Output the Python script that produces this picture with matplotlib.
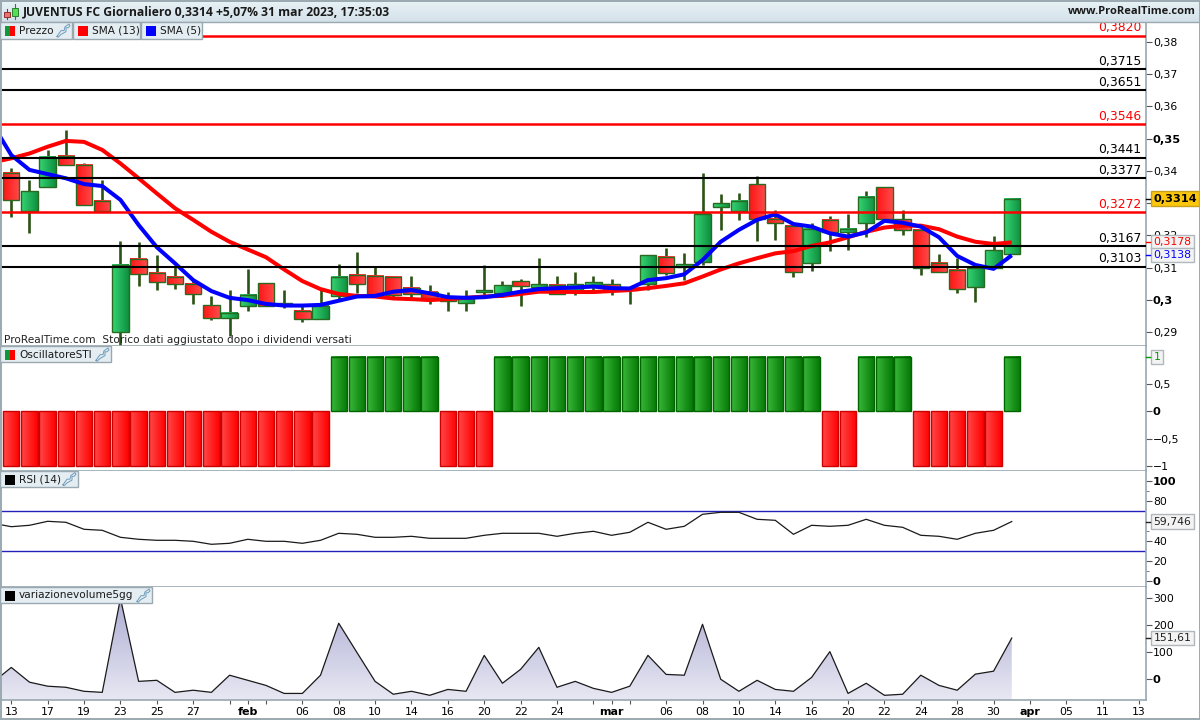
import matplotlib
matplotlib.use('Agg')
import matplotlib.pyplot as plt
import numpy as np
from matplotlib.colors import LinearSegmentedColormap
from matplotlib.patches import Rectangle

# candele giornaliere (13 gen - 31 mar 2023)
highs = [.3408, .3372, .3465, .3527, .3423, .3372, .3182, .3178, .3138, .3101, .3061, .3012, .3030, .3096,
         .3053, .3030, .2987, .3030, .3111, .3147, .3101, .3072, .3074, .3046, .3023, .3030, .3108, .3058,
         .3064, .3129, .3074, .3085, .3073, .3064, .3036, .3139, .3160, .3144, .3393, .3328, .3330, .3384,
         .3279, .3228, .3237, .3260, .3266, .3338, .3349, .3279, .3217, .3141, .3129, .3103, .3198, .3314]
lows = [.3258, .3208, .3349, .3417, .3293, .3276, .2860, .3044, .3031, .3034, .2988, .2937, .2888, .2966,
        .2982, .2973, .2932, .2939, .3002, .3022, .3010, .3010, .3004, .2987, .2966, .2966, .3004, .3010,
        .2981, .3025, .3017, .3016, .3025, .3015, .2987, .3030, .3077, .3061, .3108, .3217, .3248, .3182,
        .3186, .3071, .3090, .3152, .3154, .3196, .3250, .3201, .3077, .3085, .3022, .2994, .3098, .3141]
body_top = [.3394, .3336, .3444, .3447, .3419, .3308, .3109, .3126, .3084, .3072, .3050, .2983, .2960, .3016,
            .3053, .2989, .2966, .2980, .3072, .3078, .3075, .3072, .3036, .3025, .3004, .3004, .3029, .3045,
            .3057, .3048, .3047, .3048, .3054, .3048, .3036, .3138, .3132, .3110, .3267, .3299, .3308, .3358,
            .3250, .3228, .3221, .3247, .3219, .3318, .3349, .3250, .3216, .3115, .3091, .3098, .3153, .3314]
body_bottom = [.3309, .3276, .3349, .3417, .3293, .3276, .2899, .3079, .3056, .3050, .3017, .2944, .2942, .2980,
               .2982, .2986, .2939, .2939, .3012, .3050, .3015, .3015, .3017, .3004, .2996, .2989, .3023, .3022,
               .3044, .3041, .3017, .3025, .3046, .3030, .3030, .3048, .3082, .3103, .3118, .3287, .3276, .3250,
               .3237, .3085, .3113, .3209, .3209, .3237, .3250, .3217, .3098, .3085, .3032, .3039, .3098, .3141]
is_green = [0, 1, 1, 0, 0, 0, 1, 0, 0, 0, 0, 0, 1, 1, 0, 0, 0, 1, 1, 0, 0, 0, 0, 0, 0, 1, 1, 1,
            0, 1, 0, 1, 1, 0, 0, 1, 0, 1, 1, 1, 1, 0, 0, 0, 1, 0, 1, 1, 0, 0, 0, 0, 0, 1, 1, 1]

# il primo valore e' il giorno prima, fuori dal grafico a sinistra
sma13 = [.3427, .3439, .3454, .3475, .3493, .3490, .3465, .3423, .3377, .3330, .3284, .3248, .3211, .3180, .3156,
         .3132, .3094, .3058, .3033, .3018, .3012, .3010, .3004, .3002, .2999, .3002, .3006, .3010, .3012,
         .3018, .3025, .3025, .3024, .3024, .3027, .3030, .3036, .3043, .3051, .3072, .3094, .3113, .3129,
         .3144, .3151, .3167, .3178, .3194, .3211, .3224, .3230, .3230, .3219, .3196, .3180, .3173, .3178]
sma5 = [.3542, .3449, .3403, .3390, .3377, .3359, .3353, .3310, .3232, .3163, .3113, .3061, .3027, .3006, .2999,
        .2987, .2982, .2982, .2984, .2997, .3010, .3012, .3025, .3030, .3020, .3008, .3006, .3008, .3015,
        .3025, .3033, .3036, .3038, .3041, .3036, .3035, .3061, .3067, .3079, .3123, .3180, .3217, .3248,
        .3265, .3235, .3227, .3206, .3196, .3209, .3245, .3239, .3227, .3194, .3136, .3108, .3096, .3138]

levels_red = [.3820, .3546, .3272]
levels_black = [.3715, .3651, .3441, .3377, .3167, .3103]

oscillatore = [-1] * 18 + [1] * 6 + [-1] * 3 + [1] * 18 + [-1] * 2 + [1] * 3 + [-1] * 5 + [1]

rsi = [58, 54.6, 56, 60, 59, 52, 51, 44, 42, 41, 41, 40, 37, 38, 42, 40, 40, 38, 41, 48, 47, 44, 44,
       45, 43, 43, 43, 46, 48, 48, 48, 45, 48, 50, 46, 49, 59, 52, 55, 67, 69, 69, 62, 61, 47,
       56, 55, 56, 62, 56, 54, 46, 45, 42, 48, 51, 59.746]

volume = [-13, 42, -13, -28, -32, -47, -51, 300, -10, -6, -51, -43, -51, 13, -6, -25, -55, -55, 13, 207, 98, -10, -58,
          -47, -62, -40, -47, 87, -17, 35, 117, -32, -10, -36, -51, -28, 87, 16, 13, 203, -2, -47, -6, -40, -47,
          5, 101, -55, -17, -62, -58, 13, -25, -43, 17, 28, 151.61]

price_ticks = [.29, .30, .31, .32, .33, .34, .35, .36, .37, .38]
price_tick_labels = ['0,29', '0,3', '0,31', '0,32', '', '0,34', '0,35', '0,36', '0,37', '0,38']
osc_ticks = [-1, -.5, 0, .5]
osc_tick_labels = ['\u22121', '\u22120,5', '0', '0,5']
rsi_ticks = [0, 20, 40, 80, 100]
rsi_minor = [10, 50, 90]
vol_ticks = [0, 100, 200, 300]

date_ticks = [0, 2, 4, 6, 8, 10, 13, 16, 18, 20, 22, 24, 26, 28, 30, 33, 36, 38, 40, 42, 44, 46, 48, 50, 52, 54, 56, 58, 60, 62]
date_labels = ['13', '17', '19', '23', '25', '27', 'feb', '06', '08', '10', '14', '16', '20', '22', '24', 'mar',
               '06', '08', '10', '14', '16', '20', '22', '24', '28', '30', 'apr', '05', '11', '13']
blank_ticks = [12, 14, 32, 34]

GRIGIO = '#9aa8b0'
W, H = 1200, 720
X0, DX = 11.3, 18.19   # pixel della prima candela e passo

plt.rcParams['font.family'] = ['DejaVu Sans']

fig = plt.figure(figsize=(12, 7.2), dpi=100)
ramp = np.linspace(0, 1, 24).reshape(1, -1)


def pane(top, bottom, ymin_val, ymax_val):
    ax = fig.add_axes([1 / W, 1 - bottom / H, 1145 / W, (bottom - top) / H])
    ax.set_xlim((1 - X0) / DX, (1146 - X0) / DX)
    ax.set_ylim(ymin_val, ymax_val)
    ax.set_autoscale_on(False)
    ax.yaxis.tick_right()
    ax.set_xticks([])
    for s in ['left', 'top']:
        ax.spines[s].set_visible(False)
    for s in ['right', 'bottom']:
        ax.spines[s].set_color(GRIGIO)
        ax.spines[s].set_linewidth(1.2)
    ax.tick_params(axis='y', length=4, width=0.8, color='#555555', labelsize=7.8, pad=1)
    return ax


def gradient_box(ax, x, y0, y1, w, c_left, c_right, edge, z):
    cmap = LinearSegmentedColormap.from_list('g', [c_left, c_right])
    ax.imshow(ramp, cmap=cmap, extent=[x - w / 2, x + w / 2, min(y0, y1), max(y0, y1)],
              aspect='auto', interpolation='bilinear', zorder=z)
    ax.add_patch(Rectangle((x - w / 2, min(y0, y1)), w, abs(y1 - y0), fill=False, ec=edge, lw=1.0, zorder=z + 0.1))


def bold_tick(ax, values):
    for tick_val, label in zip(ax.get_yticks(), ax.get_yticklabels()):
        if tick_val in values:
            label.set_fontweight('bold')
            label.set_fontsize(8.2)


def tag(ax, y, text, color, bg, edge, weight='normal', size=7.8):
    ax.text(1 + 7.5 / 1145, y, text, transform=ax.get_yaxis_transform(), color=color, fontsize=size,
            fontweight=weight, va='center', ha='left', zorder=20, clip_on=False,
            bbox=dict(boxstyle='square,pad=0.2', fc=bg, ec=edge, lw=1))
    ax.plot([1, 1 + 4 / 1145], [y, y], transform=ax.get_yaxis_transform(), color=color, lw=1,
            zorder=20, clip_on=False)


# --- prezzo ---
ax_price = pane(22, 345.5, .2858, .38621)
days = np.arange(len(highs))
for i in days:
    ax_price.plot([i, i], [lows[i], highs[i]], color='#2b5315', lw=1.9, solid_capstyle='butt', zorder=2)
    if is_green[i]:
        gradient_box(ax_price, i, body_bottom[i], body_top[i], 0.9, '#35d474', '#0f9040', '#2a6a20', 3)
    else:
        gradient_box(ax_price, i, body_bottom[i], body_top[i], 0.9, '#ff1515', '#ff4a4a', '#2a6a20', 3)

days_line = np.arange(-1, len(highs))
ax_price.plot(days_line, sma13, color='#ff0000', lw=2.9, zorder=5, solid_capstyle='butt')
ax_price.plot(days_line, sma5, color='#0000ff', lw=2.9, zorder=6, solid_capstyle='butt')

for lev in levels_red:
    ax_price.axhline(lev, color='#ff0000', lw=1.8, zorder=7)
    ax_price.text(1141 / 1146, lev + .0004, f'{lev:.4f}'.replace('.', ','), color='#ff0000', fontsize=8.9,
                  transform=ax_price.get_yaxis_transform(), ha='right', va='bottom', zorder=8)
for lev in levels_black:
    ax_price.axhline(lev, color='black', lw=1.5, zorder=7)
    ax_price.text(1141 / 1146, lev + .0004, f'{lev:.4f}'.replace('.', ','), color='black', fontsize=8.9,
                  transform=ax_price.get_yaxis_transform(), ha='right', va='bottom', zorder=8)

ax_price.set_yticks(price_ticks)
ax_price.set_yticklabels(price_tick_labels)
bold_tick(ax_price, [.30, .35])
tag(ax_price, .3314, '0,3314', 'black', '#fbc60c', '#c8a020', weight='bold', size=8.1)
tag(ax_price, sma13[-1] + .0001, '0,3178', '#ff0000', '#f3f3f3', '#b0b8bd')
tag(ax_price, sma5[-1], '0,3138', '#0000ff', '#f3f3f3', '#b0b8bd')
ax_price.text(3 / 1146, .2874, 'ProRealTime.com  Storico dati aggiustato dopo i dividendi versati', fontsize=7.55,
              color='#222222', transform=ax_price.get_yaxis_transform(), va='center', ha='left', zorder=9)

# --- oscillatore ---
ax_osc = pane(345.5, 470.5, -1.09, 1.218)
for i, val in enumerate(oscillatore):
    if val > 0:
        gradient_box(ax_osc, i, 0, val, 0.9, '#38b838', '#067806', '#006400', 3)
    else:
        gradient_box(ax_osc, i, 0, val, 0.9, '#ff4848', '#ff0000', '#cc0000', 3)
ax_osc.set_yticks(osc_ticks)
ax_osc.set_yticklabels(osc_tick_labels)
bold_tick(ax_osc, [0])
tag(ax_osc, 1, '1', '#009900', '#f3f3f3', '#b0b8bd')

# --- RSI ---
ax_rsi = pane(470.5, 586.5, -5.2, 110.8)
ax_rsi.plot(days_line, rsi, color='#1a1a1a', lw=0.9, zorder=3)
ax_rsi.axhline(70, color='#2222bb', lw=1.0, zorder=2)
ax_rsi.axhline(30, color='#2222bb', lw=1.0, zorder=2)
ax_rsi.set_yticks(rsi_ticks)
ax_rsi.set_yticklabels([str(v) for v in rsi_ticks])
ax_rsi.set_yticks(rsi_minor, minor=True)
ax_rsi.tick_params(axis='y', which='minor', length=2.5, width=0.7, color='#777777')
bold_tick(ax_rsi, [0, 100])
tag(ax_rsi, rsi[-1], '59,746', '#222222', '#f3f3f3', '#b0b8bd')

# --- variazione volume ---
ax_vol = pane(586.5, 700, -79.5, 344)
vol_fill = ax_vol.fill_between(days_line, volume, -79.5, color='none', zorder=2)
grad = LinearSegmentedColormap.from_list('v', ['#e8e8f3', '#a6a6d0'])
img = ax_vol.imshow(np.linspace(0, 1, 200).reshape(-1, 1), cmap=grad, origin='lower',
                    extent=[-1, 55, -79.5, 344], aspect='auto', zorder=2, interpolation='bilinear')
img.set_clip_path(vol_fill.get_paths()[0], transform=ax_vol.transData)
ax_vol.plot(days_line, volume, color='#1a1a1a', lw=0.9, zorder=3)
ax_vol.set_yticks(vol_ticks)
ax_vol.set_yticklabels([str(v) for v in vol_ticks])
bold_tick(ax_vol, [0])
tag(ax_vol, volume[-1], '151,61', '#222222', '#f3f3f3', '#b0b8bd')

ax_vol.set_xticks(date_ticks + blank_ticks)
ax_vol.set_xticklabels(date_labels + [''] * len(blank_ticks))
ax_vol.tick_params(axis='x', length=3, width=0.8, color='#555555', labelsize=7.8, pad=2)
for label in ax_vol.get_xticklabels():
    if label.get_text() in ('feb', 'mar', 'apr'):
        label.set_fontweight('bold')
        label.set_fontsize(8)

# --- cornice, intestazione e legende in pixel ---
top = fig.add_axes([0, 0, 1, 1], zorder=30)
top.set_xlim(0, W)
top.set_ylim(H, 0)
top.axis('off')

top.imshow(np.linspace(0, 1, 40).reshape(-1, 1), cmap=LinearSegmentedColormap.from_list('h', ['#e9f3f7', '#d3e1e9']),
           extent=[0, W, 22, 0], aspect='auto', zorder=1)
top.set_xlim(0, W)
top.set_ylim(H, 0)
top.add_patch(Rectangle((0.5, 0.5), W - 1, H - 1.5, fill=False, ec=GRIGIO, lw=1.4, zorder=5))
top.plot([0, W], [22, 22], color=GRIGIO, lw=1, zorder=5)

# icona candele
top.plot([6.5, 6.5], [9, 19], color='#8a3030', lw=0.8, zorder=3)
top.add_patch(Rectangle((3.5, 12), 6, 5, fc='#f07070', ec='#8a3030', lw=0.7, zorder=4))
top.plot([14.5, 14.5], [4, 19], color='#2b8030', lw=0.8, zorder=3)
top.add_patch(Rectangle((11.5, 8), 6, 8, fc='#55dd55', ec='#2b8030', lw=0.7, zorder=4))

top.text(23, 12, 'JUVENTUS FC Giornaliero 0,3314 +5,07% 31 mar 2023, 17:35:03', fontsize=8.7, fontweight='bold',
         family='Open Sans', color='#1a1a1a', va='center', ha='left', zorder=6)
top.text(1196, 12, 'www.ProRealTime.com', fontsize=8, fontweight='bold', family='Open Sans', color='#1a1a1a',
         va='center', ha='right', zorder=6)


def wrench(x, y):
    xs = np.array([0, 4, 7, 8, 12, 13, 11, 9, 9, 4, 1, 0])
    ys = np.array([13, 7, 7, 3, 0, 2, 4, 4, 8, 11, 14, 13])
    top.plot(x + xs, y + ys * 0.95, color='#6f9cba', lw=0.7, zorder=7)


def chip(x0, x1, y0, y1, text, colors, has_wrench=True):
    top.add_patch(Rectangle((x0, y0), x1 - x0, y1 - y0, fc='#e4edf2', ec=GRIGIO, lw=1, zorder=5))
    sx = x0 + 5
    if len(colors) == 2:
        top.add_patch(Rectangle((sx, y0 + 4), 5, 10, fc=colors[0], lw=0, zorder=6))
        top.add_patch(Rectangle((sx + 5, y0 + 4), 5, 10, fc=colors[1], lw=0, zorder=6))
    else:
        top.add_patch(Rectangle((sx, y0 + 4), 10, 10, fc=colors[0], lw=0, zorder=6))
    top.text(sx + 14, (y0 + y1) / 2 + 0.5, text, fontsize=7.6, color='#1a1a1a', va='center', ha='left', zorder=7)
    if has_wrench:
        wrench(x1 - 15, y0 + 2)


chip(0, 72, 22, 38.5, 'Prezzo', ['#0a9a3a', '#ff0000'])
chip(73, 140, 22, 38.5, 'SMA (13)', ['#ff0000'], has_wrench=False)
chip(141, 202, 22, 38.5, 'SMA (5)', ['#0000ff'], has_wrench=False)
chip(0, 111, 346, 362, 'OscillatoreSTI', ['#0a9a3a', '#ff0000'])
chip(0, 78, 470.5, 487, 'RSI (14)', ['black'])
chip(0, 152, 587, 603, 'variazionevolume5gg', ['black'])

fig.savefig('out.png', dpi=100)
